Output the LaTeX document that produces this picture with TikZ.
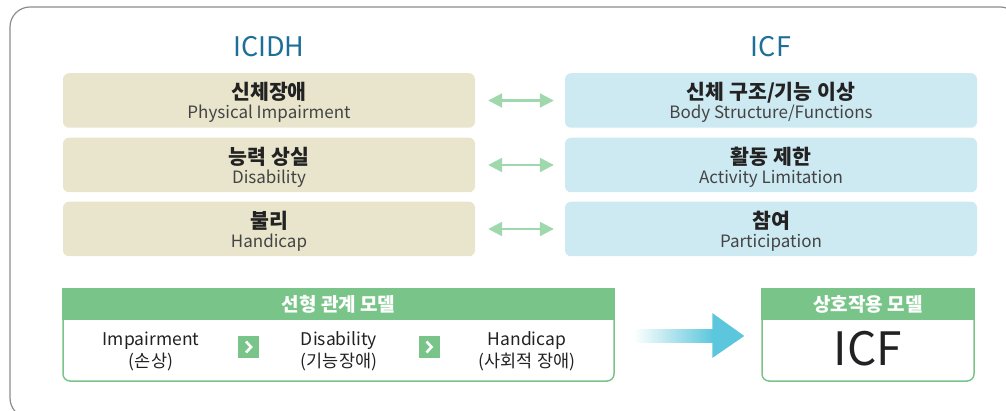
\documentclass[tikz,border=0pt]{standalone}
\usepackage{fontspec}
\setmainfont{Noto Sans CJK KR}
\usetikzlibrary{arrows.meta,calc}
\definecolor{framegray}{HTML}{8C8C8C}
\definecolor{titleblue}{HTML}{1D6F98}
\definecolor{beige}{HTML}{E8E5CC}
\definecolor{lightblue}{HTML}{CDE9F1}
\definecolor{arrowgreen}{HTML}{9FD8AD}
\definecolor{modelgreen}{HTML}{79C589}
\definecolor{arrowcyan}{HTML}{5CC7DC}
\definecolor{ink}{HTML}{222222}
\definecolor{sub}{HTML}{444444}
\begin{document}
\begin{tikzpicture}[x=1pt,y=-1pt,
  box/.style={rounded corners=6pt, minimum width=412pt, minimum height=54.5pt, inner sep=0pt},
  oldbox/.style={box, fill=beige},
  newbox/.style={box, fill=lightblue},
  maintitle/.style={anchor=base, font=\fontsize{27}{27}\selectfont, text=titleblue},
  ktitle/.style={anchor=base, font=\fontsize{20.5}{20.5}\selectfont\bfseries, text=ink},
  etitle/.style={anchor=base, font=\fontsize{17}{17}\selectfont, text=sub},
  pairarrow/.style={{Triangle[length=14pt,width=14pt]}-{Triangle[length=14pt,width=14pt]}, line width=2.2pt, draw=arrowgreen},
  modelbox/.style={draw=modelgreen, line width=1.5pt, rounded corners=7pt, minimum height=92pt, inner sep=0pt},
  modelhead/.style={fill=modelgreen, minimum height=32pt, inner sep=0pt, text=white, font=\fontsize{19}{19}\selectfont\bfseries},
  steptext/.style={anchor=base, font=\fontsize{17.5}{17.5}\selectfont, text=ink},
  chevbox/.style={fill=modelgreen, minimum size=21pt, inner sep=0pt},
  chevline/.style={draw=white, line width=2.6pt},
]
\useasboundingbox (0,0) rectangle (1006,411);
\begin{scope}
  \clip (0,0) rectangle (1006,411);
  \draw[framegray, line width=1.2pt, rounded corners=20pt] (10,7) rectangle (1020,418);
\end{scope}

% titles
\node[maintitle] (ticidh) at (269,57) {ICIDH};
\node[maintitle] (ticf) at (771,57) {ICF};

% left boxes
\node[oldbox] (l1) at (269,100.5) {};
\node[oldbox] (l2) at (269,165) {};
\node[oldbox] (l3) at (269,229) {};
% right boxes
\node[newbox] (r1) at (771,100.5) {};
\node[newbox] (r2) at (771,165) {};
\node[newbox] (r3) at (771,229) {};

\node[ktitle] (l1k) at (269,100) {신체장애};
\node[etitle] (l1e) at (269,119) {Physical Impairment};
\node[ktitle] (l2k) at (269,164.5) {능력 상실};
\node[etitle] (l2e) at (269,184) {Disability};
\node[ktitle] (l3k) at (269,228.5) {불리};
\node[etitle] (l3e) at (269,248) {Handicap};

\node[ktitle] (r1k) at (771,100) {신체 구조/기능 이상};
\node[etitle] (r1e) at (771,119) {Body Structure/Functions};
\node[ktitle] (r2k) at (771,164.5) {활동 제한};
\node[etitle] (r2e) at (771,184) {Activity Limitation};
\node[ktitle] (r3k) at (771,228.5) {참여};
\node[etitle] (r3e) at (771,248) {Participation};

\draw[pairarrow] ([xshift=13pt]l1.east) -- ([xshift=-11pt]r1.west);
\draw[pairarrow] ([xshift=13pt]l2.east) -- ([xshift=-11pt]r2.west);
\draw[pairarrow] ([xshift=13pt]l3.east) -- ([xshift=-11pt]r3.west);

% linear model box
\node[modelbox, minimum width=551pt] (lin) at (338.5,335) {};
\node[modelhead, minimum width=552.5pt] (linhead) at (338.5,304.5) {선형 관계 모델};
\node[steptext] (s1) at (151,345) {Impairment};
\node[steptext] (s1k) at (151,367) {(손상)};
\node[steptext] (s2) at (339,345) {Disability};
\node[steptext] (s2k) at (339,367) {(기능장애)};
\node[steptext] (s3) at (527,345) {Handicap};
\node[steptext] (s3k) at (527,367) {(사회적 장애)};
\node[chevbox] (ch1) at (248.5,347) {};
\node[chevbox] (ch2) at (429,347) {};
\draw[chevline] ($(ch1)+(-2.5,-5.5)$) -- ($(ch1)+(2.5,0)$) -- ($(ch1)+(-2.5,5.5)$);
\draw[chevline] ($(ch2)+(-2.5,-5.5)$) -- ($(ch2)+(2.5,0)$) -- ($(ch2)+(-2.5,5.5)$);

% interaction model box
\node[modelbox, minimum width=212pt] (inter) at (868,335) {};
\node[modelhead, minimum width=213.5pt] (interhead) at (868,304.5) {상호작용 모델};
\node[anchor=base, font=\fontsize{46}{46}\selectfont, text=ink] (icfbig) at (868,365) {ICF};

% gradient arrow
\coordinate (ga) at ([xshift=19pt, yshift=-1pt]lin.east);
\coordinate (gb) at ([xshift=-17pt, yshift=-1pt]inter.west);
\shade[left color=white, right color=arrowcyan] ($(ga)+(0,-6.5)$) rectangle ($(gb)+(-31,6.5)$);
\fill[arrowcyan] ($(gb)+(-32,-23)$) -- (gb) -- ($(gb)+(-32,22)$) -- cycle;
\end{tikzpicture}
\end{document}
